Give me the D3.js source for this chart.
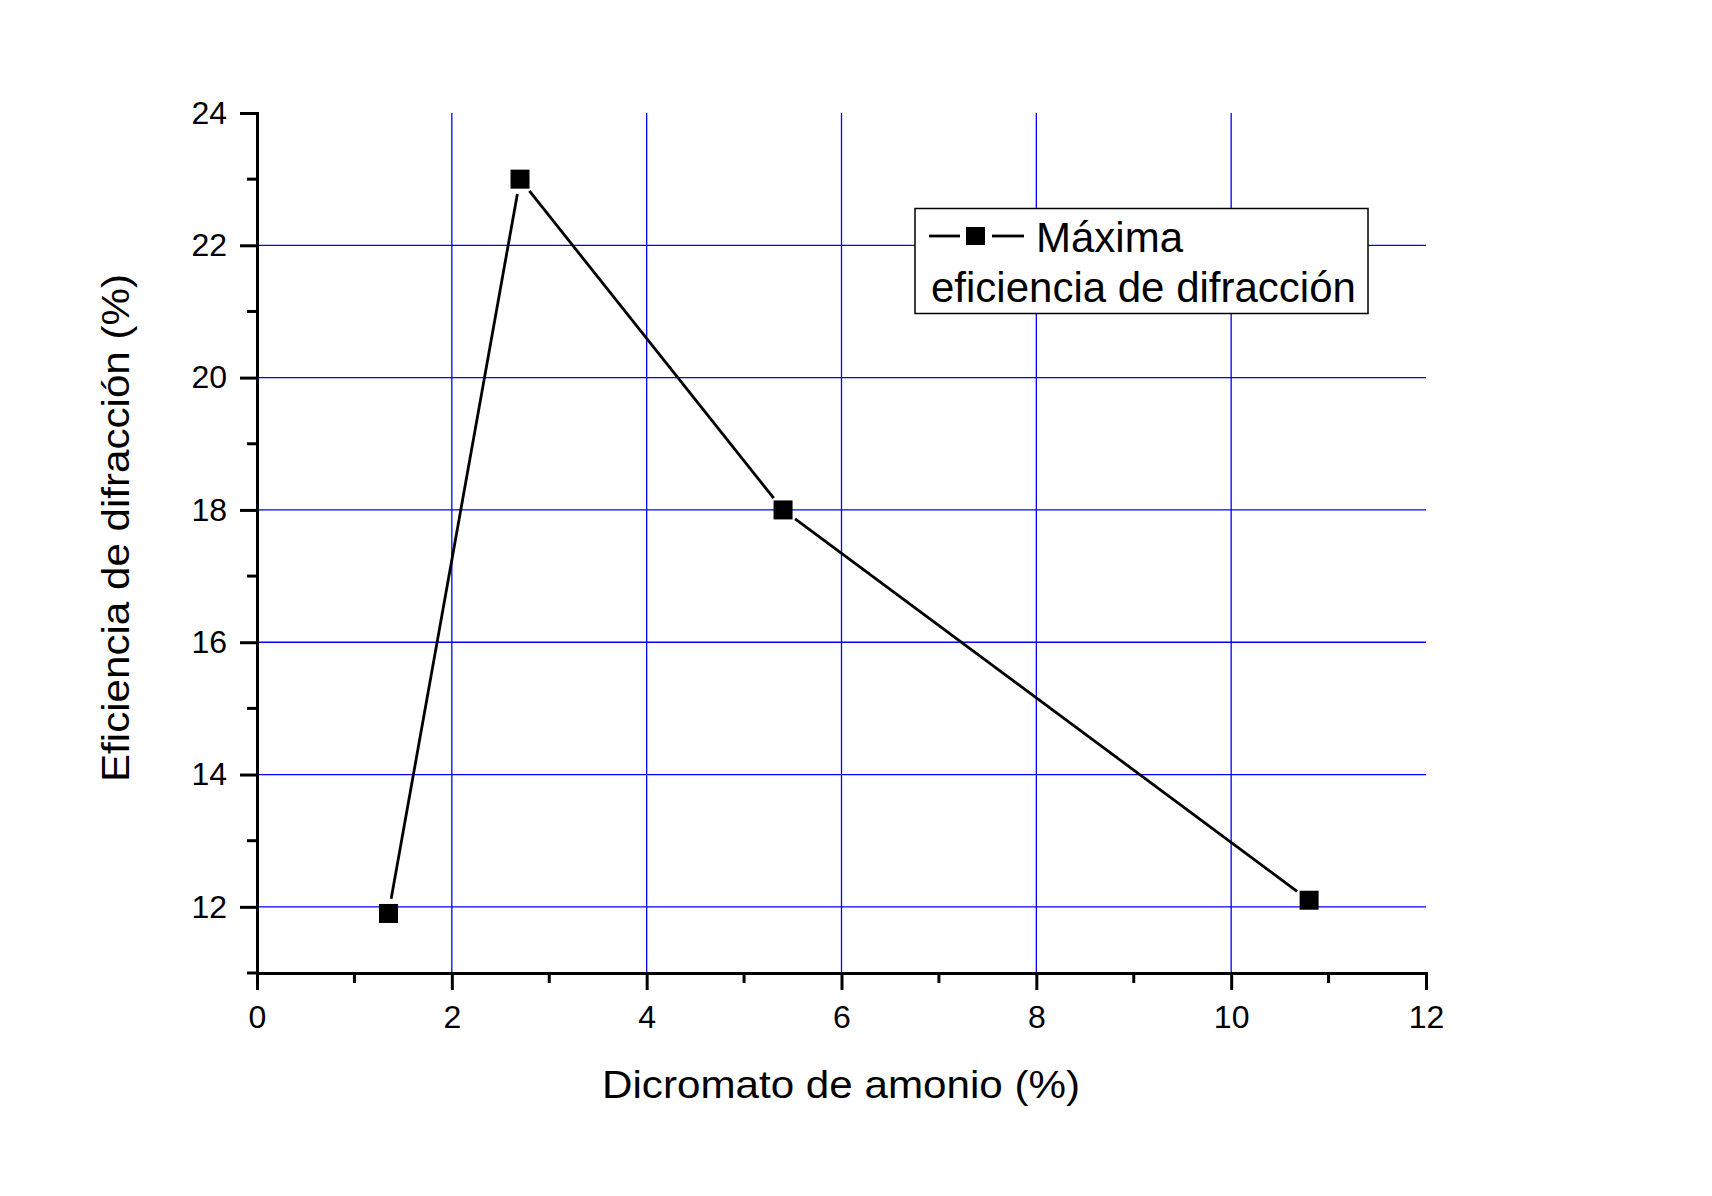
<!DOCTYPE html>
<html>
<head>
	<meta charset="utf-8">
	<title>Eficiencia de difracción</title>
	<script type="text/javascript" src="https://d3js.org/d3.v7.min.js"></script>
	<style>
		body { margin: 0; background: #fff; }
		text { font-family: Arial, "Liberation Sans", sans-serif; fill: #000; }
		.grid line { stroke: #0000ff; stroke-width: 1.3; }
		.axis path, .axis line { stroke: #000; stroke-width: 3; }
	</style>
</head>
<body>
	<svg width="1712" height="1196"></svg>
	<script type="text/javascript">

	// data
	var dicromato = [1.35, 2.7, 5.4, 10.8];
	var eficiencia = [11.9, 23.0, 18.0, 12.1];
	var xTicks = [0, 2, 4, 6, 8, 10, 12];
	var xMinor = [1, 3, 5, 7, 9, 11];
	var yTicks = [12, 14, 16, 18, 20, 22, 24];
	var yMinor = [11, 13, 15, 17, 19, 21, 23];
	var xGrid = [2, 4, 6, 8, 10];
	var yGrid = [12, 14, 16, 18, 20, 22];

	var svg = d3.select("svg"),
		margin = {top: 113, left: 257},
		width = 1169,
		height = 860;

	var x = d3.scaleLinear().domain([0, 12]).range([0, width]),
		y = d3.scaleLinear().domain([11, 24]).range([height, 0]);

	var g = svg.append("g")
		.attr("transform", "translate(" + margin.left + "," + margin.top + ")");

	// grid
	var grid = g.append("g").attr("class", "grid");
	grid.selectAll(".vx").data(xGrid).enter().append("line")
		.attr("x1", function(d) { return x(d); })
		.attr("x2", function(d) { return x(d); })
		.attr("y1", y(11)).attr("y2", y(24));
	grid.selectAll(".hy").data(yGrid).enter().append("line")
		.attr("y1", function(d) { return y(d); })
		.attr("y2", function(d) { return y(d); })
		.attr("x1", x(0)).attr("x2", x(12));

	// x axis
	var xAxis = g.append("g")
		.attr("class", "axis")
		.attr("transform", "translate(0," + height + ")")
		.call(d3.axisBottom(x).tickValues(xTicks).tickSize(17).tickSizeOuter(0));
	xAxis.selectAll("text")
		.attr("y", 55).attr("dy", 0)
		.style("font-size", "32px");
	xAxis.append("g").selectAll("line").data(xMinor).enter().append("line")
		.attr("x1", function(d) { return x(d); })
		.attr("x2", function(d) { return x(d); })
		.attr("y1", 0).attr("y2", 10);

	// y axis
	var yAxis = g.append("g")
		.attr("class", "axis")
		.call(d3.axisLeft(y).tickValues(yTicks).tickSize(17).tickSizeOuter(0));
	yAxis.selectAll("text")
		.attr("x", -30)
		.style("font-size", "32px");
	yAxis.append("g").selectAll("line").data(yMinor).enter().append("line")
		.attr("y1", function(d) { return y(d); })
		.attr("y2", function(d) { return y(d); })
		.attr("x1", 0).attr("x2", -10);
	g.selectAll(".axis .domain").attr("stroke-linecap", "square");

	// line segments stop short of the markers
	var gap = 15;
	var pts = dicromato.map(function(d, i) { return [x(d), y(eficiencia[i])]; });
	for (var i = 0; i < pts.length - 1; i++) {
		var a = pts[i], b = pts[i + 1];
		var dx = b[0] - a[0], dy = b[1] - a[1];
		var len = Math.sqrt(dx * dx + dy * dy);
		var ux = dx / len, uy = dy / len;
		g.append("line")
			.attr("x1", a[0] + ux * gap).attr("y1", a[1] + uy * gap)
			.attr("x2", b[0] - ux * gap).attr("y2", b[1] - uy * gap)
			.attr("stroke", "#000")
			.attr("stroke-width", 2.8);
	}

	g.selectAll(".pt")
		.data(dicromato)
		.enter().append("rect")
		.attr("x", function(d) { return x(d) - 9.5; })
		.attr("y", function(d, i) { return y(eficiencia[i]) - 9.5; })
		.attr("width", 19)
		.attr("height", 19)
		.attr("fill", "#000");

	// axis titles (slightly stretched in the original)
	svg.append("text")
		.attr("x", 841)
		.attr("y", 1098)
		.attr("text-anchor", "middle")
		.attr("textLength", 478)
		.attr("lengthAdjust", "spacingAndGlyphs")
		.style("font-size", "39px")
		.text("Dicromato de amonio (%)");

	svg.append("text")
		.attr("transform", "translate(129,528) rotate(-90)")
		.attr("text-anchor", "middle")
		.attr("textLength", 508)
		.attr("lengthAdjust", "spacingAndGlyphs")
		.style("font-size", "39.5px")
		.text("Eficiencia de difracción (%)");

	// legend
	var leg = svg.append("g");
	leg.append("rect")
		.attr("x", 915).attr("y", 208.5)
		.attr("width", 453).attr("height", 105)
		.attr("fill", "#fff")
		.attr("stroke", "#000")
		.attr("stroke-width", 1.5);
	leg.append("line")
		.attr("x1", 929).attr("x2", 960)
		.attr("y1", 236).attr("y2", 236)
		.attr("stroke", "#000").attr("stroke-width", 2.8);
	leg.append("rect")
		.attr("x", 966).attr("y", 227)
		.attr("width", 19).attr("height", 18)
		.attr("fill", "#000");
	leg.append("line")
		.attr("x1", 992).attr("x2", 1024)
		.attr("y1", 236).attr("y2", 236)
		.attr("stroke", "#000").attr("stroke-width", 2.8);
	leg.append("text")
		.attr("x", 1036).attr("y", 252)
		.style("font-size", "42px")
		.text("Máxima");
	leg.append("text")
		.attr("x", 931).attr("y", 302)
		.style("font-size", "42px")
		.text("eficiencia de difracción");

	</script>
</body>
</html>
